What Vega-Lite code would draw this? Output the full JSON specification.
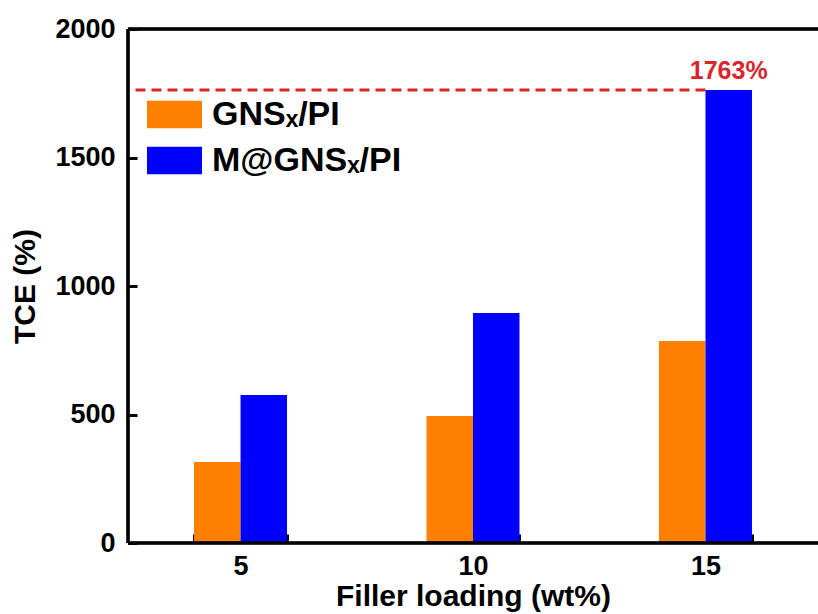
{
  "$schema": "https://vega.github.io/schema/vega-lite/v6.json",
  "width": 690,
  "height": 514,
  "autosize": {"type": "none"},
  "padding": {"left": 128, "top": 29, "right": 0, "bottom": 71},
  "background": "white",
  "config": {
    "view": {"stroke": null},
    "font": "Liberation Sans",
    "axis": {
      "grid": false,
      "zindex": 1,
      "domain": false,
      "offset": -9,
      "ticks": true,
      "tickColor": "black",
      "tickWidth": 3,
      "tickSize": 9,
      "labelFont": "Liberation Sans",
      "labelFontWeight": "bold",
      "labelFontSize": 27,
      "labelColor": "black",
      "titleFont": "Liberation Sans",
      "titleFontWeight": "bold",
      "titleFontSize": 30,
      "titleColor": "black"
    }
  },
  "data": {
    "values": [
      {"loading": 5, "series": "GNSₓ/PI", "tce": 315},
      {"loading": 5, "series": "M@GNSₓ/PI", "tce": 576},
      {"loading": 10, "series": "GNSₓ/PI", "tce": 494},
      {"loading": 10, "series": "M@GNSₓ/PI", "tce": 895},
      {"loading": 15, "series": "GNSₓ/PI", "tce": 786},
      {"loading": 15, "series": "M@GNSₓ/PI", "tce": 1763}
    ]
  },
  "layer": [
    {
      "mark": {"type": "bar"},
      "encoding": {
        "x": {
          "field": "loading",
          "type": "ordinal",
          "scale": {"paddingInner": 0.6, "paddingOuter": 0.284},
          "axis": {
            "orient": "bottom",
            "title": "Filler loading (wt%)",
            "labelAngle": 0,
            "labelPadding": 10,
            "tickBand": "extent",
            "titlePadding": 2
          }
        },
        "xOffset": {
          "field": "series",
          "sort": ["GNSₓ/PI", "M@GNSₓ/PI"],
          "scale": {"paddingInner": 0, "paddingOuter": 0}
        },
        "y": {
          "field": "tce",
          "type": "quantitative",
          "scale": {"domain": [0, 2000], "nice": false},
          "axis": {
            "orient": "left",
            "title": "TCE (%)",
            "values": [0, 500, 1000, 1500, 2000],
            "format": "d",
            "labelPadding": 13,
            "titlePadding": 14
          }
        },
        "color": {
          "field": "series",
          "type": "nominal",
          "scale": {"domain": ["GNSₓ/PI", "M@GNSₓ/PI"], "range": ["#FF8000", "#0000FF"]},
          "legend": {
            "orient": "none",
            "legendX": 19,
            "legendY": 58,
            "title": null,
            "padding": 0,
            "symbolType": "M-1,-0.5H1V0.5H-1Z",
            "symbolSize": 3025,
            "symbolStrokeWidth": 0,
            "symbolOpacity": 1,
            "labelFont": "Liberation Sans",
            "labelFontWeight": "bold",
            "labelFontSize": 34,
            "labelColor": "black",
            "labelLimit": 400,
            "labelOffset": 10,
            "rowPadding": 1
          }
        }
      }
    },
    {
      "transform": [{"filter": "datum.tce == 1763"}],
      "mark": {"type": "rule", "color": "#D8262B", "strokeWidth": 3, "strokeDash": [10, 6]},
      "encoding": {
        "x": {"field": "loading", "type": "ordinal"},
        "x2": {"value": 0},
        "y": {"field": "tce", "type": "quantitative"}
      }
    },
    {
      "transform": [
        {"filter": "datum.tce == 1763"},
        {"calculate": "datum.tce + '%'", "as": "label"}
      ],
      "mark": {
        "type": "text",
        "color": "#D8262B",
        "font": "Liberation Sans",
        "fontWeight": "bold",
        "fontSize": 25,
        "baseline": "bottom",
        "dy": -6
      },
      "encoding": {
        "x": {"field": "loading", "type": "ordinal"},
        "xOffset": {"field": "series", "sort": ["GNSₓ/PI", "M@GNSₓ/PI"]},
        "y": {"field": "tce", "type": "quantitative"},
        "text": {"field": "label"}
      }
    },
    {
      "mark": {"type": "rule", "color": "black", "strokeWidth": 2.5},
      "encoding": {"y": {"datum": 2000}}
    },
    {
      "mark": {"type": "rule", "color": "black", "strokeWidth": 2.5},
      "encoding": {"y": {"datum": 0}}
    },
    {
      "mark": {"type": "rule", "color": "black", "strokeWidth": 2.5},
      "encoding": {"x": {"value": 0}}
    }
  ]
}
